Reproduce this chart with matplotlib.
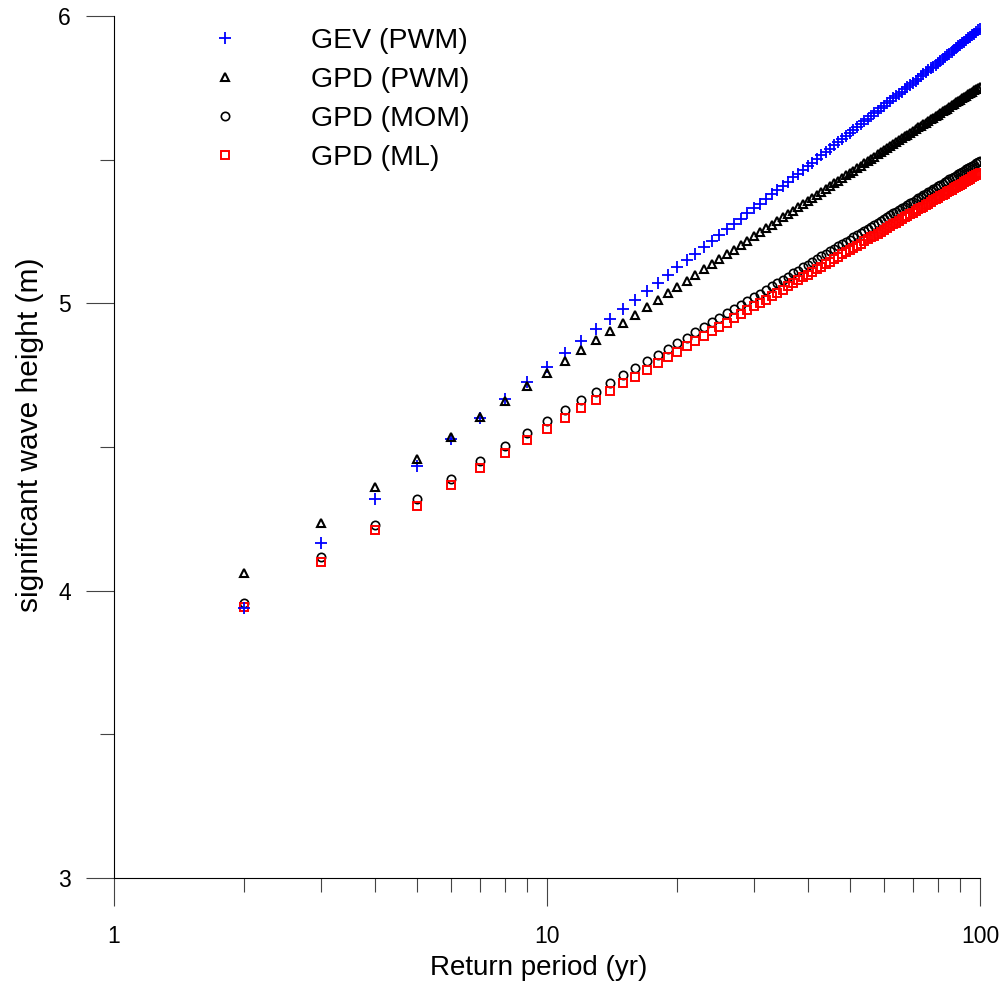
import numpy as np
import matplotlib
matplotlib.use('Agg')
import matplotlib.pyplot as plt
from matplotlib.ticker import FixedLocator, NullFormatter

plt.rcParams['font.family'] = ['Liberation Sans', 'DejaVu Sans']

# return periods (yr)
period = list(range(2, 101))

# significant wave height (m)
gev_pwm = [3.940, 4.167, 4.319, 4.434, 4.527, 4.602, 4.668, 4.727, 4.779, 4.826,
           4.869, 4.909, 4.945, 4.979, 5.011, 5.042, 5.071, 5.099, 5.125, 5.150,
           5.173, 5.196, 5.217, 5.238, 5.258, 5.277, 5.295, 5.313, 5.331, 5.347,
           5.363, 5.379, 5.395, 5.409, 5.424, 5.438, 5.451, 5.465, 5.478, 5.490,
           5.503, 5.515, 5.527, 5.538, 5.550, 5.561, 5.572, 5.582, 5.593, 5.603,
           5.613, 5.623, 5.633, 5.642, 5.652, 5.661, 5.670, 5.679, 5.688, 5.696,
           5.704, 5.713, 5.721, 5.729, 5.737, 5.745, 5.753, 5.760, 5.768, 5.775,
           5.782, 5.790, 5.797, 5.804, 5.811, 5.818, 5.824, 5.831, 5.838, 5.844,
           5.850, 5.857, 5.863, 5.869, 5.876, 5.882, 5.888, 5.894, 5.899, 5.905,
           5.911, 5.917, 5.922, 5.928, 5.934, 5.939, 5.944, 5.950, 5.955]

gpd_pwm = [4.060, 4.236, 4.360, 4.457, 4.536, 4.603, 4.660, 4.711, 4.757, 4.798,
           4.836, 4.871, 4.903, 4.933, 4.961, 4.987, 5.012, 5.035, 5.057, 5.078,
           5.098, 5.118, 5.136, 5.154, 5.171, 5.187, 5.203, 5.218, 5.233, 5.247,
           5.261, 5.274, 5.287, 5.299, 5.312, 5.323, 5.335, 5.346, 5.357, 5.368,
           5.378, 5.389, 5.399, 5.408, 5.418, 5.427, 5.436, 5.445, 5.454, 5.462,
           5.471, 5.479, 5.487, 5.495, 5.503, 5.511, 5.518, 5.526, 5.533, 5.540,
           5.547, 5.554, 5.561, 5.567, 5.574, 5.581, 5.587, 5.593, 5.600, 5.606,
           5.612, 5.618, 5.624, 5.629, 5.635, 5.641, 5.646, 5.652, 5.657, 5.663,
           5.668, 5.673, 5.678, 5.684, 5.689, 5.694, 5.699, 5.704, 5.708, 5.713,
           5.718, 5.723, 5.727, 5.732, 5.736, 5.741, 5.745, 5.750, 5.754]

gpd_mom = [3.957, 4.117, 4.230, 4.318, 4.389, 4.450, 4.502, 4.549, 4.590, 4.628,
           4.662, 4.693, 4.722, 4.749, 4.775, 4.799, 4.821, 4.842, 4.862, 4.881,
           4.900, 4.917, 4.934, 4.950, 4.965, 4.980, 4.994, 5.008, 5.021, 5.034,
           5.047, 5.059, 5.071, 5.082, 5.093, 5.104, 5.114, 5.125, 5.135, 5.144,
           5.154, 5.163, 5.172, 5.181, 5.189, 5.198, 5.206, 5.214, 5.222, 5.230,
           5.238, 5.245, 5.252, 5.260, 5.267, 5.274, 5.281, 5.287, 5.294, 5.300,
           5.307, 5.313, 5.319, 5.325, 5.331, 5.337, 5.343, 5.349, 5.354, 5.360,
           5.366, 5.371, 5.376, 5.382, 5.387, 5.392, 5.397, 5.402, 5.407, 5.412,
           5.417, 5.421, 5.426, 5.431, 5.435, 5.440, 5.444, 5.449, 5.453, 5.458,
           5.462, 5.466, 5.470, 5.474, 5.479, 5.483, 5.487, 5.491, 5.495]

gpd_ml = [3.943, 4.099, 4.210, 4.296, 4.367, 4.426, 4.478, 4.523, 4.564, 4.601,
          4.634, 4.665, 4.694, 4.721, 4.745, 4.769, 4.791, 4.812, 4.832, 4.851,
          4.869, 4.886, 4.902, 4.918, 4.933, 4.948, 4.962, 4.976, 4.989, 5.001,
          5.013, 5.025, 5.037, 5.048, 5.059, 5.070, 5.080, 5.090, 5.100, 5.109,
          5.118, 5.128, 5.137, 5.145, 5.154, 5.162, 5.170, 5.178, 5.186, 5.194,
          5.201, 5.208, 5.216, 5.223, 5.230, 5.236, 5.243, 5.250, 5.256, 5.263,
          5.269, 5.275, 5.281, 5.287, 5.293, 5.299, 5.305, 5.310, 5.316, 5.321,
          5.327, 5.332, 5.337, 5.342, 5.347, 5.353, 5.358, 5.362, 5.367, 5.372,
          5.377, 5.382, 5.386, 5.391, 5.395, 5.400, 5.404, 5.408, 5.413, 5.417,
          5.421, 5.425, 5.430, 5.434, 5.438, 5.442, 5.446, 5.450, 5.453]

xticks = [1, 10, 100]
xticklabels = ['1', '10', '100']
yticks = [3, 4, 5, 6]

fig = plt.figure(figsize=(10.07, 9.86), dpi=100)
ax = fig.add_axes([114 / 1007, 108 / 986, 866 / 1007, 862 / 986])

h_mom, = ax.plot(period, gpd_mom, 'o', ls='none', ms=6, mfc='none', mec='black', mew=1.2, label='GPD (MOM)')
h_ml, = ax.plot(period, gpd_ml, 's', ls='none', ms=6, mfc='none', mec='red', mew=1.4, label='GPD (ML)')
h_gev, = ax.plot(period, gev_pwm, '+', ls='none', ms=8, color='blue', mew=1.3, label='GEV (PWM)')
h_pwm, = ax.plot(period, gpd_pwm, '^', ls='none', ms=5.5, mfc='none', mec='black', mew=1.5, label='GPD (PWM)')

ax.set_xscale('log')
ax.set_xlim(1, 100)
ax.set_ylim(3, 6)
ax.xaxis.set_major_locator(FixedLocator(xticks))
ax.set_xticklabels(xticklabels)
ax.xaxis.set_minor_locator(FixedLocator([2, 3, 4, 5, 6, 7, 8, 9, 20, 30, 40, 50, 60, 70, 80, 90]))
ax.xaxis.set_minor_formatter(NullFormatter())
ax.set_yticks(yticks)
ax.set_yticklabels([str(v) for v in yticks])
ax.yaxis.set_minor_locator(FixedLocator([3.5, 4.5, 5.5]))

for s in ['top', 'right']:
    ax.spines[s].set_visible(False)
for s in ['left', 'bottom']:
    ax.spines[s].set_linewidth(0.8)

ax.tick_params(which='major', direction='out', length=20, width=0.8, color='#444444',
               labelsize=16.5, pad=11)
ax.tick_params(axis='x', which='major', pad=14)
ax.tick_params(which='minor', direction='out', length=10, width=0.8, color='#444444')

ax.set_xlabel('Return period (yr)', fontsize=20)
ax.set_ylabel('significant wave height (m)', fontsize=21.5)
ax.xaxis.set_label_coords((539 - 114) / 866, (878 - 955) / 862)
ax.yaxis.set_label_coords((44 - 114) / 866, (878 - 435) / 862)

ax.legend(handles=[h_gev, h_pwm, h_mom, h_ml], loc='upper left',
          bbox_to_anchor=(197 / 1007, 1 - 28 / 986), bbox_transform=fig.transFigure,
          frameon=False, fontsize=20.5, numpoints=1, handlelength=2.0,
          handletextpad=2.0, labelspacing=0.46, borderpad=0, borderaxespad=0)

fig.savefig('out.png', dpi=100)
